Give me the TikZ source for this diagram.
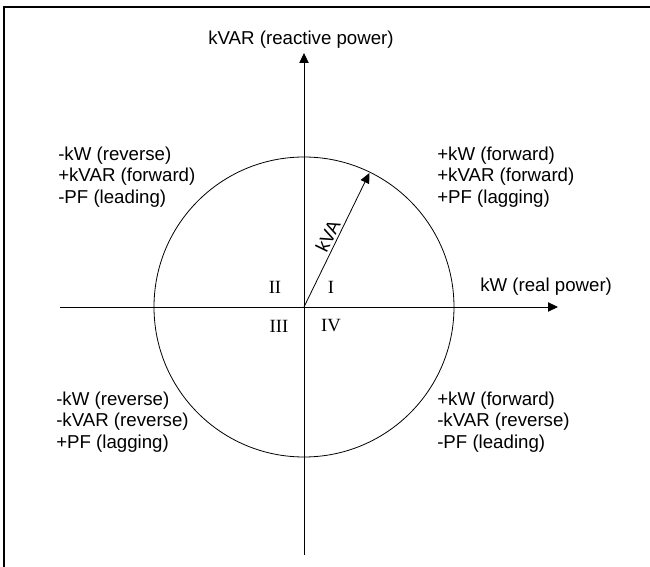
\documentclass[tikz,border=0pt]{standalone}
\usepackage{fontspec}
\setmainfont{Liberation Sans}
\newfontfamily\romanfont{Liberation Serif}
\usetikzlibrary{arrows.meta}

\begin{document}
\begin{tikzpicture}[
  x=0.75pt,
  y=0.75pt,
  >={Triangle[length=7.5pt,width=7pt]},
  thinline/.style={line width=0.6pt},
  arrow/.style={->, line width=0.6pt},
  axislabel/.style={font=\fontsize{14}{16}\selectfont, inner sep=0pt},
  quadtext/.style={
    font=\fontsize{14}{16}\selectfont,
    align=left,
    anchor=west,
    inner sep=0pt
  },
  quadnum/.style={font=\romanfont\fontsize{14}{16}\selectfont, inner sep=0pt}
]
  \useasboundingbox (-304,-260) rectangle (346,307);

  % frame
  \draw[line width=0.8pt] (-300,-260) -- (-300,300) -- (346,300);

  \coordinate (o) at (0,0);
  \coordinate (ybot) at (0,-248);
  \coordinate (ytop) at (0,254);
  \coordinate (xleft) at (-244,0);
  \coordinate (xright) at (254,0);
  \coordinate (kvatip) at (64:149);

  \draw[arrow] (ybot) -- (ytop);
  \draw[arrow] (xleft) -- (xright);
  \draw[thinline] (o) circle[radius=112.5pt];
  \draw[arrow] (o) -- node[sloped, above=2pt, axislabel] (kva) {kVA} (kvatip);

  \node[axislabel] (kvar) at (-3,267) {kVAR (reactive power)};
  \node[axislabel, anchor=west] (kw) at (176,20) {kW (real power)};

  \node[quadnum] (q2) at (-29,20) {II};
  \node[quadnum] (q1) at (27,20) {I};
  \node[quadnum] (q3) at (-25,-19) {III};
  \node[quadnum] (q4) at (27,-19) {IV};

  \node[quadtext] (tl) at (-246,130)
    {-kW (reverse)\\ +kVAR (forward)\\ -PF (leading)};
  \node[quadtext] (tr) at (133,130)
    {+kW (forward)\\ +kVAR (forward)\\ +PF (lagging)};
  \node[quadtext] (bl) at (-248,-115)
    {-kW (reverse)\\ -kVAR (reverse)\\ +PF (lagging)};
  \node[quadtext] (br) at (133,-115)
    {+kW (forward)\\ -kVAR (reverse)\\ -PF (leading)};
\end{tikzpicture}
\end{document}
